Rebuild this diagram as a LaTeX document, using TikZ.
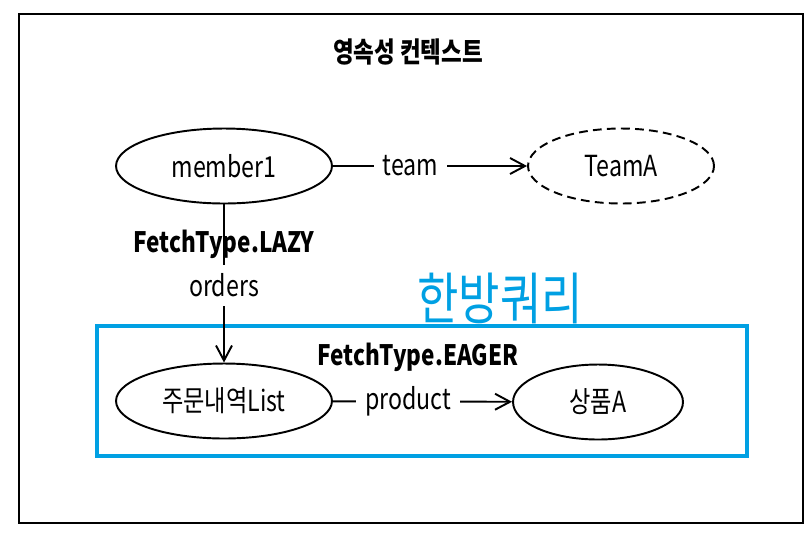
\documentclass[tikz,border=0pt]{standalone}
\usepackage{fontspec}
\setmainfont{Noto Sans CJK KR}[FakeStretch=0.8]
\usepackage{tikz}
\usetikzlibrary{arrows.meta,shapes,positioning}
\definecolor{qblue}{RGB}{0,160,227}

\begin{document}
\begin{tikzpicture}[
  x=0.02cm,y=-0.02cm,
  font=\fontsize{16.5}{18}\selectfont,
  ent/.style={draw,ellipse,line width=1.1pt,inner sep=0pt,
              minimum width=4.32cm,minimum height=1.5cm},
  lazyent/.style={ent,dashed,dash pattern=on 5pt off 3pt,
              minimum width=3.72cm},
  ttl/.style={font=\fontsize{16}{18}\selectfont\bfseries},
  lbl/.style={fill=white,inner sep=5pt},
  arr/.style={-{Straight Barb[length=3mm,width=3.2mm]},line width=1.1pt}
]
\useasboundingbox (0,0) rectangle (810,535);
% --- frames ---
\node[draw,line width=1.1pt,minimum width=15.68cm,minimum height=10.18cm,
      inner sep=0pt](ctx) at(411,268.5){};
\node[draw=qblue,line width=2.3pt,minimum width=13cm,minimum height=2.6cm,
      inner sep=0pt](qbox) at(422,391){};
\node[ttl](ctxt) at(408,52){영속성 컨텍스트};
\node[text=qblue,font=\fontsize{32}{34}\selectfont](qtxt) at(500,298){한방쿼리};
% --- row 1 ---
\node[ent](m1)    at(224,166){member1};
\node[lazyent](ta) at(621,166){TeamA};
% --- row 2 ---
\node[ent,minimum width=4.32cm](ol) at(224,401){주문내역List};
\node[ent,minimum width=3.4cm](pa)  at(598,402){상품A};
\node[ttl](eager) at(418,357){FetchType.EAGER};
% connectors
\draw[arr](m1)--node[lbl,pos=0.4]{team}(ta);
\draw[arr](ol)--node[lbl,pos=0.42]{product}(pa);
\draw[arr](m1)--node[ttl,pos=0.25]{FetchType.LAZY}
               node[lbl,pos=0.51]{orders}(ol);
\end{tikzpicture}
\end{document}
